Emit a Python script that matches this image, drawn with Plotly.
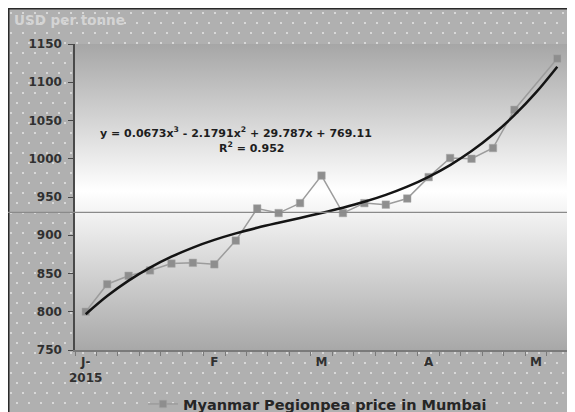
import base64
import plotly.graph_objects as go

# ---- data ----
weeks = list(range(1, 24))
price = [800, 836, 847, 854, 863, 864, 862, 893, 935, 929, 942, 978,
         929, 942, 940, 948, 976, 1001, 1000, 1014, 1064, None, 1131]
tick_pos = [1, 7, 12, 17, 22]
tick_text = ["J-<br>2015", "F", "M", "A", "M"]
y_ticks = [750, 800, 850, 900, 950, 1000, 1050, 1100, 1150]
trend_coef = [0.0673, -2.1791, 29.787, 769.11]  # cubic trend from chart
ref_level = 930
series_name = "Myanmar Pegionpea price in Mumbai"
eq_text = "y = 0.0673x<sup>3</sup> - 2.1791x<sup>2</sup> + 29.787x + 769.11"
r2_text = "R<sup>2</sup> = 0.952"

trend = [trend_coef[0] * x**3 + trend_coef[1] * x**2 + trend_coef[2] * x + trend_coef[3] for x in weeks]

# page is drawn with an 8px body margin; figure fills the rest of the 575x412 window
OFF = 8
W, H = 575 - OFF, 412 - OFF
L, R, T, B = 75 - OFF, 7, 44 - OFF, 62
PW, PH = W - L - R, H - T - B


def px(xp):  # page x -> paper x
    return (xp - OFF - L) / PW


def py(yp):  # page y -> paper y
    return (H - B - (yp - OFF)) / PH


def svg_uri(svg):
    return "data:image/svg+xml;base64," + base64.b64encode(svg.encode()).decode()


outer_svg = f'''<svg xmlns="http://www.w3.org/2000/svg" width="{W}" height="{H}" viewBox="0 0 {W} {H}">
<defs><pattern id="d" width="12" height="20" patternUnits="userSpaceOnUse">
<circle cx="3" cy="5" r="1" fill="#e6e6e6"/><circle cx="9" cy="15" r="1" fill="#e6e6e6"/></pattern></defs>
<rect x="0" y="0" width="{W+20}" height="{H+20}" fill="#b0b0b0" stroke="#2a2a2a" stroke-width="3"/>
<rect x="2" y="2" width="{W+20}" height="{H+20}" fill="url(#d)"/>
</svg>'''

plot_svg = f'''<svg xmlns="http://www.w3.org/2000/svg" width="{PW}" height="{PH}" viewBox="0 0 {PW} {PH}" preserveAspectRatio="none">
<defs><linearGradient id="g" x1="0" y1="0" x2="0" y2="1">
<stop offset="0" stop-color="#a6a6a6"/><stop offset="0.48" stop-color="#ffffff"/><stop offset="1" stop-color="#a8a8a8"/>
</linearGradient></defs>
<rect x="0" y="0" width="{PW}" height="{PH}" fill="url(#g)"/>
</svg>'''

FONT = "DejaVu Sans"

fig = go.Figure()
fig.add_trace(go.Scatter(
    x=weeks, y=price, mode="lines+markers", name=series_name,
    connectgaps=True,
    line=dict(color="#9c9c9c", width=1.5),
    marker=dict(symbol="square", size=7.5, color="#8e8e8e", line=dict(color="#a8a8a8", width=0.5)),
))
fig.add_trace(go.Scatter(
    x=weeks, y=trend, mode="lines", showlegend=False, line_shape="spline",
    line=dict(color="#141414", width=2.5), hoverinfo="skip",
))

fig.update_layout(
    width=W, height=H,
    margin=dict(l=L, r=R, t=T, b=B, autoexpand=False),
    paper_bgcolor="#b0b0b0",
    plot_bgcolor="rgba(0,0,0,0)",
    font=dict(family=FONT, color="#303030", size=12),
    showlegend=True,
    legend=dict(orientation="h", x=px(143), xanchor="left", y=py(404), yanchor="middle",
                bgcolor="rgba(0,0,0,0)", font=dict(family=FONT, size=14.5, color="#262626", weight="bold")),
    images=[
        dict(source=svg_uri(outer_svg), xref="paper", yref="paper", x=-L / PW, y=1 + T / PH,
             sizex=W / PW, sizey=H / PH, sizing="stretch", layer="below", xanchor="left", yanchor="top"),
        dict(source=svg_uri(plot_svg), xref="paper", yref="paper", x=0, y=1,
             sizex=1, sizey=1, sizing="stretch", layer="below", xanchor="left", yanchor="top"),
    ],
    xaxis=dict(range=[0.5, 23.5], tickmode="array", tickvals=tick_pos, ticktext=tick_text, automargin=False,
               ticks="", showgrid=False, zeroline=False, showline=True, linecolor="#7a7a7a", linewidth=1.5,
               tickfont=dict(family=FONT, size=12, color="#303030", weight="bold"),
               minor=dict(tick0=0.5, dtick=1, ticks="outside", ticklen=4, tickcolor="#7a7a7a", showgrid=False)),
    yaxis=dict(range=[750, 1150], tickmode="array", tickvals=y_ticks, ticks="outside", ticklen=5, automargin=False,
               tickcolor="#4a4a4a", showgrid=False, zeroline=False, showline=True, linecolor="#4a4a4a",
               linewidth=1.5, ticklabelstandoff=4,
               tickfont=dict(family=FONT, size=12, color="#303030", weight="bold")),
    shapes=[dict(type="line", xref="paper", yref="y", x0=px(0), x1=px(580),
                 y0=ref_level, y1=ref_level, line=dict(color="#8a8a8a", width=1.2), layer="above")],
    annotations=[
        dict(text="USD per tonne", xref="paper", yref="paper", x=px(12), y=py(20),
             xanchor="left", yanchor="middle", showarrow=False,
             font=dict(family=FONT, size=13.5, color="#d4d4d4", weight="bold")),
        dict(text=eq_text, xref="paper", yref="paper", x=px(236), y=py(132),
             xanchor="center", yanchor="middle", showarrow=False,
             font=dict(family=FONT, size=11, color="#1e1e1e", weight="bold")),
        dict(text=r2_text, xref="paper", yref="paper", x=px(252), y=py(147),
             xanchor="center", yanchor="middle", showarrow=False,
             font=dict(family=FONT, size=11, color="#1e1e1e", weight="bold")),
    ],
)

fig.write_html("out.html")
